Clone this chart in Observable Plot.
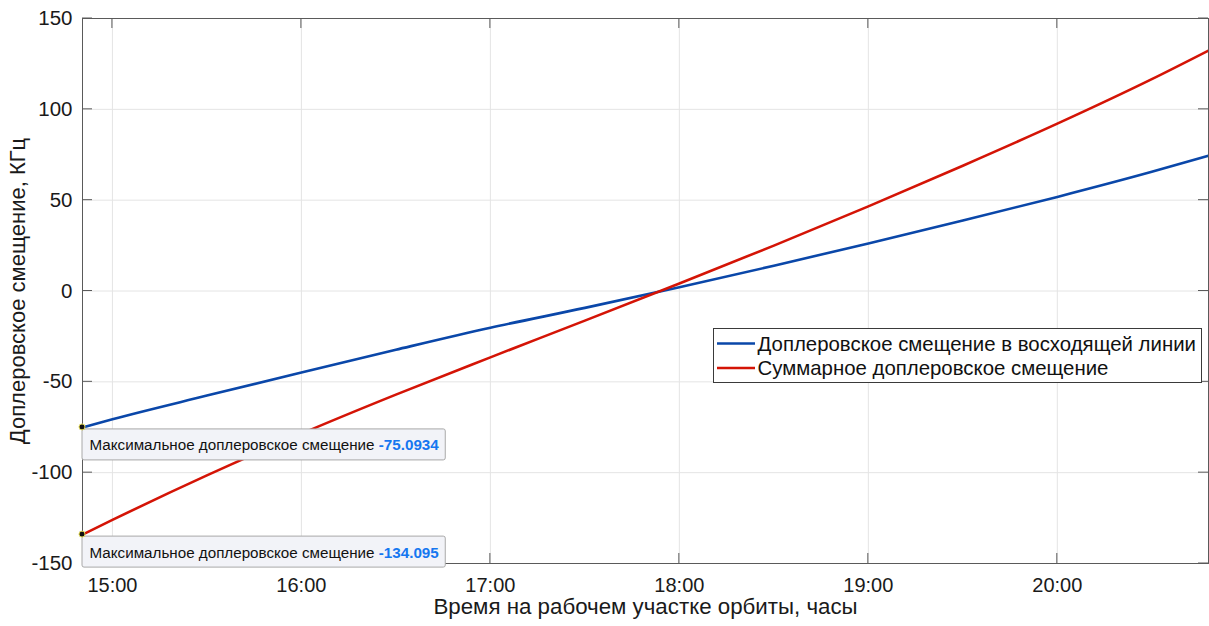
<!DOCTYPE html>
<html>
<head>
<meta charset="utf-8">
<script src="https://cdn.jsdelivr.net/npm/d3@7"></script>
<script src="https://cdn.jsdelivr.net/npm/@observablehq/plot@0.6"></script>
<style>
  body { margin: 0; background: #fff; }
  #chart svg { display: block; }
</style>
</head>
<body>
<div id="chart"></div>
<script>
// Time along the working segment of the orbit (hh:mm[:ss])
const timeLabels = ["14:50:30", "15:00", "15:30", "16:00", "16:30", "17:00", "17:30",
                    "18:00", "18:30", "19:00", "19:30", "20:00", "20:30", "20:48"];
// Uplink Doppler shift, kHz
const uplinkShift = [-75.0934, -70.58, -57.58, -44.83, -32.33, -20.23, -9.3,
                     2.1, 13.9, 26.2, 38.8, 51.8, 65.6, 74.5];
// Total Doppler shift, kHz
const totalShift = [-134.095, -126.02, -101.52, -78.52, -57.02, -36.52, -16.3,
                    4.15, 25.0, 46.6, 68.98, 92.1, 116.6, 132.33];

const hourTicks = ["15:00", "16:00", "17:00", "18:00", "19:00", "20:00"];
const yTicks = [-150, -100, -50, 0, 50, 100, 150];

const seriesNames = ["Доплеровское смещение в восходящей линии", "Суммарное доплеровское смещение"];
const seriesColors = ["#0a47a9", "#d41406"];
const tipLabel = "Максимальное доплеровское смещение";
const xTitle = "Время на рабочем участке орбиты, часы";
const yTitle = "Доплеровское смещение, КГц";

const toDate = (s) => {
  const [h, m, sec = 0] = s.split(":").map(Number);
  return new Date(Date.UTC(2000, 0, 1, h, m, sec));
};
const times = timeLabels.map(toDate);
const tickDates = hourTicks.map(toDate);
const seriesValues = [uplinkShift, totalShift];

const rows = seriesValues.map((vals) => times.map((t, i) => ({t, v: vals[i]})));
const firstPoints = seriesValues.map((vals) => ({t: times[0], v: vals[0]}));

const font = "'Liberation Sans', Arial, Helvetica, sans-serif";

const plot = Plot.plot({
  width: 1209,
  height: 626,
  marginLeft: 82,
  marginRight: 1,
  marginTop: 18,
  marginBottom: 63,
  style: {fontFamily: font, background: "#fff", color: "#1a1a1a"},
  x: {type: "utc", domain: [times[0], times[times.length - 1]]},
  y: {domain: [-150, 150]},
  marks: [
    Plot.gridX(tickDates, {stroke: "#e4e4e4", strokeOpacity: 1}),
    Plot.gridY(yTicks, {stroke: "#e4e4e4", strokeOpacity: 1}),
    Plot.line(rows[0], {x: "t", y: "v", stroke: seriesColors[0], strokeWidth: 2.6, curve: "monotone-x"}),
    Plot.line(rows[1], {x: "t", y: "v", stroke: seriesColors[1], strokeWidth: 2.6, curve: "monotone-x"}),
    Plot.frame({stroke: "#5a5a5a", strokeWidth: 1}),
    Plot.axisX(tickDates, {
      tickSize: 0, tickPadding: 14, fontSize: 20, label: null,
      tickFormat: d3.utcFormat("%H:%M")
    }),
    Plot.axisY(yTicks, {
      tickSize: 0, tickPadding: 10, fontSize: 20.5, label: null,
      tickFormat: (d) => String(d)
    }),
    Plot.text([xTitle], {frameAnchor: "bottom", dy: 50, fontSize: 22.3, fill: "#1a1a1a"}),
    Plot.text([yTitle], {frameAnchor: "left", textAnchor: "middle", dx: -65, rotate: -90, fontSize: 22, fill: "#1a1a1a"})
  ]
});

document.getElementById("chart").appendChild(plot);

const svg = d3.select(plot);
const xs = plot.scale("x"), ys = plot.scale("y");
const [x0, x1] = xs.range;
const [yb, yt] = ys.range; // bottom, top

// Inward tick marks on all four sides of the box
const tickLen = 10;
const ticksG = svg.append("g").attr("stroke", "#5a5a5a").attr("stroke-width", 1);
tickDates.forEach((d) => {
  const x = xs.apply(d);
  ticksG.append("line").attr("x1", x).attr("x2", x).attr("y1", yb).attr("y2", yb - tickLen);
  ticksG.append("line").attr("x1", x).attr("x2", x).attr("y1", yt).attr("y2", yt + tickLen);
});
yTicks.forEach((v) => {
  const y = ys.apply(v);
  ticksG.append("line").attr("x1", x0).attr("x2", x0 + tickLen).attr("y1", y).attr("y2", y);
  ticksG.append("line").attr("x1", x1).attr("x2", x1 - tickLen).attr("y1", y).attr("y2", y);
});

// Data tips at the first sample of each series
firstPoints.forEach((p) => {
  const px = xs.apply(p.t), py = ys.apply(p.v);
  const g = svg.append("g").attr("font-family", font).attr("font-size", 15.2).attr("text-anchor", "start");
  const rect = g.append("rect")
    .attr("x", px).attr("y", py + 2).attr("height", 31).attr("rx", 2)
    .attr("fill", "#f2f3f8").attr("stroke", "#a8a8a8").attr("stroke-width", 1);
  const txt = g.append("text").attr("x", px + 7.5).attr("y", py + 2 + 21.5).attr("fill", "#111");
  txt.append("tspan").text(tipLabel + " ");
  txt.append("tspan").attr("font-weight", "bold").attr("fill", "#1577f0").text(p.v.toPrecision(6));
  const w = txt.node().getComputedTextLength();
  rect.attr("width", w + 14);
  g.append("circle").attr("cx", px).attr("cy", py).attr("r", 3)
    .attr("fill", "#111").attr("stroke", "#e6dc5a").attr("stroke-width", 1);
});

// Legend
const lg = svg.append("g").attr("font-family", font).attr("font-size", 20.4).attr("text-anchor", "start");
lg.append("rect").attr("x", 713.5).attr("y", 328.5).attr("width", 488).attr("height", 54)
  .attr("fill", "#fff").attr("stroke", "#3a3a3a").attr("stroke-width", 1);
seriesNames.forEach((name, k) => {
  const y = 343.5 + k * 24.5;
  lg.append("line").attr("x1", 717).attr("x2", 755).attr("y1", y).attr("y2", y)
    .attr("stroke", seriesColors[k]).attr("stroke-width", 2.6);
  lg.append("text").attr("x", 757.5).attr("y", y).attr("dy", "0.36em").attr("fill", "#111").text(name);
});
</script>
</body>
</html>
